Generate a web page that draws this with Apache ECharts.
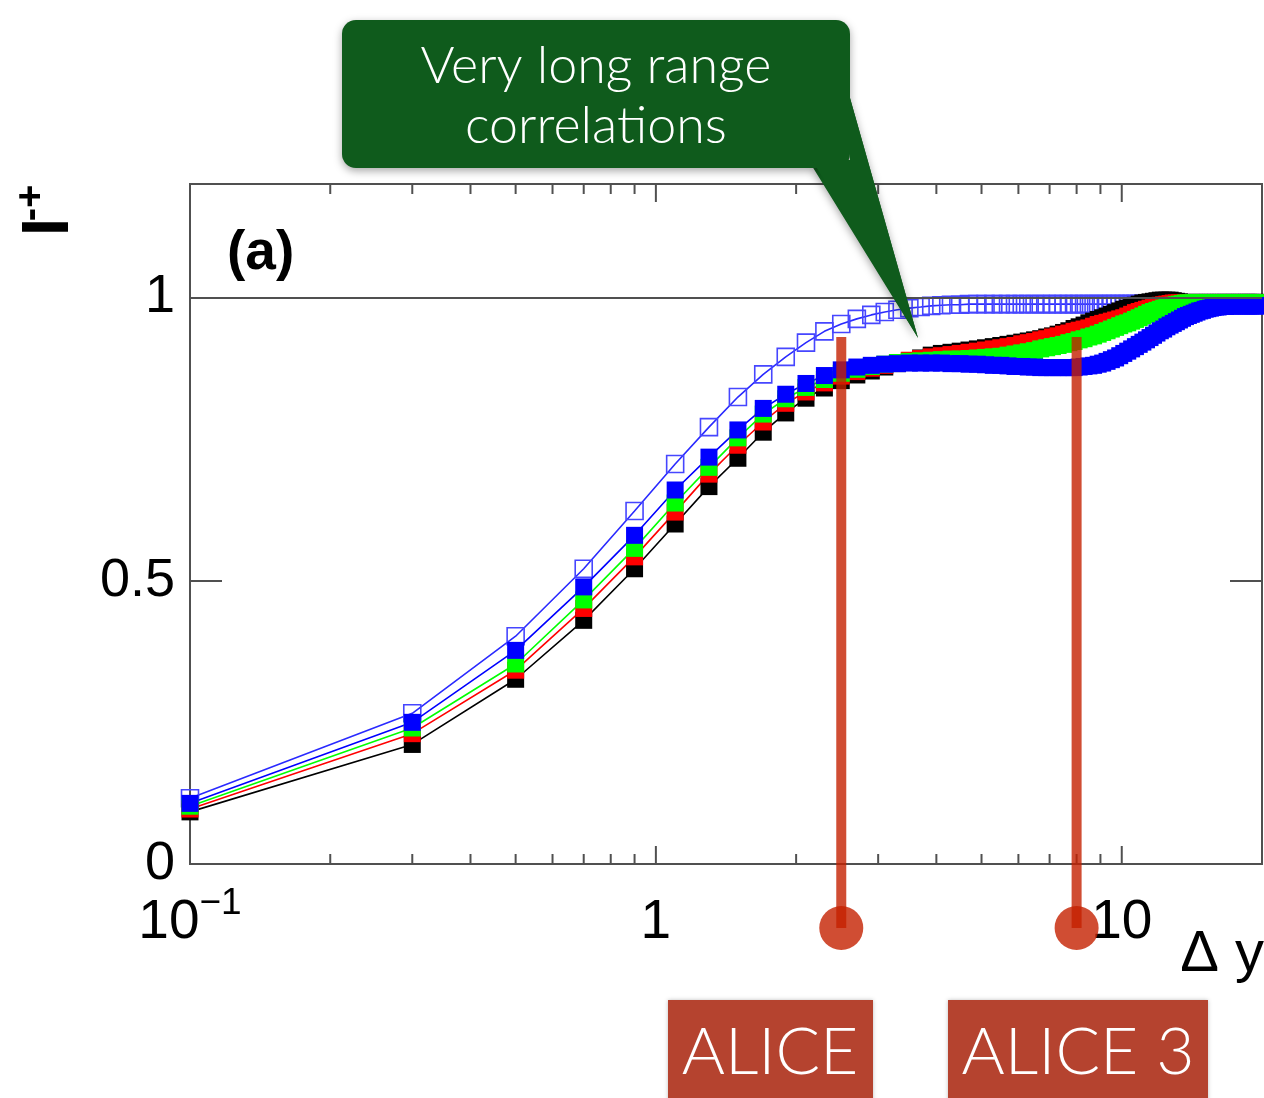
<!DOCTYPE html>
<html>
<head>
<meta charset="utf-8">
<script src="https://cdn.jsdelivr.net/npm/echarts@6/dist/echarts.min.js"></script>
<style>
  html, body { margin: 0; padding: 0; background: #ffffff; }
  #chart { width: 1264px; height: 1098px; }
</style>
</head>
<body>
<div id="chart"></div>
<script>
// Rapidity gap values (Δy) at which every curve is sampled
const rapidity = [
  0.1, 0.3, 0.5, 0.7, 0.9, 1.1, 1.3, 1.5, 1.7, 1.9,
  2.1, 2.3, 2.5, 2.7, 2.9, 3.1, 3.3, 3.5, 3.7, 3.9,
  4.1, 4.3, 4.5, 4.7, 4.9, 5.1, 5.3, 5.5, 5.7, 5.9,
  6.1, 6.3, 6.5, 6.7, 6.9, 7.1, 7.3, 7.5, 7.7, 7.9,
  8.1, 8.3, 8.5, 8.7, 8.9, 9.1, 9.3, 9.5, 9.7, 9.9,
  10.1, 10.3, 10.5, 10.7, 10.9, 11.1, 11.3, 11.5, 11.7, 11.9,
  12.1, 12.3, 12.5, 12.7, 12.9, 13.1, 13.3, 13.5, 13.7, 13.9,
  14.1, 14.3, 14.5, 14.7, 14.9, 15.1, 15.3, 15.5, 15.7, 15.9,
  16.1, 16.3, 16.5, 16.7, 16.9, 17.1, 17.3, 17.5, 17.7, 17.9,
  18.1, 18.3, 18.5, 18.7, 18.9, 19.1, 19.3, 19.5, 19.7, 19.9
];

// Open blue squares
const openBlue = [
  0.116, 0.266, 0.402, 0.521, 0.623, 0.706, 0.771, 0.824, 0.864, 0.895,
  0.920, 0.940, 0.953, 0.962, 0.969, 0.974, 0.978, 0.981, 0.983, 0.985,
  0.986, 0.987, 0.987, 0.988, 0.988, 0.988, 0.988, 0.988, 0.988, 0.988,
  0.988, 0.988, 0.988, 0.988, 0.988, 0.988, 0.988, 0.988, 0.988, 0.988,
  0.988, 0.988, 0.988, 0.988, 0.988, 0.988, 0.988, 0.988, 0.988, 0.988,
  0.988, 0.988, 0.988, 0.988, 0.988, 0.988, 0.988, 0.988, 0.988, 0.988,
  0.989, 0.989, 0.989, 0.989, 0.989, 0.989, 0.989, 0.989, 0.989, 0.989,
  0.989, 0.989, 0.989, 0.989, 0.989, 0.989, 0.989, 0.989, 0.989, 0.989,
  0.989, 0.989, 0.989, 0.989, 0.989, 0.989, 0.989, 0.989, 0.989, 0.989,
  0.989, 0.989, 0.989, 0.989, 0.989, 0.989, 0.989, 0.989, 0.989, 0.989
];

// Filled black squares
const fillBlack = [
  0.092, 0.211, 0.326, 0.430, 0.521, 0.600, 0.666, 0.716, 0.762, 0.796,
  0.822, 0.840, 0.853, 0.863, 0.870, 0.877, 0.883, 0.888, 0.893, 0.898,
  0.901, 0.903, 0.905, 0.907, 0.909, 0.911, 0.913, 0.915, 0.917, 0.919,
  0.921, 0.923, 0.925, 0.927, 0.930, 0.932, 0.935, 0.938, 0.941, 0.945,
  0.948, 0.951, 0.955, 0.958, 0.961, 0.964, 0.967, 0.970, 0.973, 0.976,
  0.979, 0.981, 0.983, 0.986, 0.988, 0.990, 0.991, 0.992, 0.993, 0.994,
  0.995, 0.995, 0.995, 0.995, 0.994, 0.993, 0.992, 0.991, 0.991, 0.991,
  0.991, 0.991, 0.991, 0.991, 0.991, 0.991, 0.991, 0.991, 0.991, 0.991,
  0.991, 0.991, 0.991, 0.991, 0.991, 0.991, 0.991, 0.991, 0.991, 0.991,
  0.991, 0.991, 0.991, 0.991, 0.991, 0.991, 0.991, 0.991, 0.991, 0.991
];

// Filled red squares
const fillRed = [
  0.097, 0.230, 0.342, 0.451, 0.542, 0.621, 0.688, 0.739, 0.780, 0.813,
  0.833, 0.849, 0.861, 0.869, 0.875, 0.880, 0.885, 0.889, 0.892, 0.895,
  0.897, 0.899, 0.901, 0.903, 0.905, 0.907, 0.909, 0.911, 0.913, 0.915,
  0.918, 0.920, 0.922, 0.925, 0.927, 0.930, 0.932, 0.935, 0.937, 0.940,
  0.942, 0.944, 0.946, 0.949, 0.952, 0.954, 0.956, 0.958, 0.960, 0.962,
  0.964, 0.967, 0.970, 0.973, 0.975, 0.977, 0.979, 0.981, 0.983, 0.985,
  0.986, 0.987, 0.988, 0.989, 0.990, 0.990, 0.990, 0.990, 0.990, 0.990,
  0.990, 0.990, 0.990, 0.990, 0.990, 0.990, 0.990, 0.990, 0.990, 0.990,
  0.990, 0.990, 0.990, 0.990, 0.990, 0.990, 0.990, 0.990, 0.990, 0.990,
  0.990, 0.990, 0.990, 0.990, 0.990, 0.990, 0.990, 0.990, 0.990, 0.990
];

// Filled green squares
const fillGreen = [
  0.102, 0.240, 0.353, 0.466, 0.557, 0.637, 0.700, 0.752, 0.794, 0.821,
  0.841, 0.855, 0.866, 0.873, 0.878, 0.882, 0.885, 0.887, 0.888, 0.889,
  0.890, 0.891, 0.891, 0.892, 0.893, 0.894, 0.895, 0.896, 0.898, 0.900,
  0.902, 0.904, 0.906, 0.909, 0.911, 0.913, 0.915, 0.917, 0.920, 0.922,
  0.925, 0.927, 0.930, 0.932, 0.935, 0.938, 0.941, 0.944, 0.947, 0.950,
  0.953, 0.955, 0.958, 0.961, 0.964, 0.967, 0.970, 0.973, 0.975, 0.977,
  0.979, 0.981, 0.983, 0.985, 0.986, 0.987, 0.988, 0.989, 0.990, 0.990,
  0.990, 0.990, 0.990, 0.990, 0.990, 0.990, 0.990, 0.990, 0.990, 0.990,
  0.990, 0.990, 0.990, 0.990, 0.990, 0.990, 0.990, 0.990, 0.990, 0.990,
  0.990, 0.990, 0.990, 0.990, 0.990, 0.990, 0.990, 0.990, 0.990, 0.990
];

// Filled blue squares
const fillBlue = [
  0.107, 0.250, 0.377, 0.489, 0.580, 0.660, 0.718, 0.766, 0.804, 0.829,
  0.848, 0.862, 0.872, 0.877, 0.880, 0.882, 0.883, 0.884, 0.884, 0.884,
  0.884, 0.883, 0.883, 0.882, 0.882, 0.881, 0.880, 0.880, 0.879, 0.878,
  0.878, 0.877, 0.877, 0.876, 0.876, 0.876, 0.876, 0.876, 0.876, 0.876,
  0.877, 0.878, 0.879, 0.880, 0.882, 0.884, 0.887, 0.890, 0.893, 0.897,
  0.901, 0.905, 0.909, 0.913, 0.917, 0.921, 0.925, 0.929, 0.933, 0.937,
  0.941, 0.944, 0.948, 0.951, 0.954, 0.957, 0.960, 0.963, 0.966, 0.968,
  0.970, 0.972, 0.974, 0.976, 0.977, 0.979, 0.980, 0.981, 0.982, 0.983,
  0.983, 0.984, 0.984, 0.984, 0.985, 0.985, 0.985, 0.985, 0.985, 0.985,
  0.985, 0.985, 0.985, 0.985, 0.985, 0.985, 0.985, 0.985, 0.985, 0.985
];

// Log-axis tick marks drawn on the bottom and top frame edges
const xMajorTicks = [1, 10];
const xMinorTicks = [0.2, 0.3, 0.4, 0.5, 0.6, 0.7, 0.8, 0.9, 2, 3, 4, 5, 6, 7, 8, 9];

// Acceptance reach markers
const detectorNames = ['ALICE', 'ALICE 3'];
const detectorReach = [2.5, 8];
const markerTop = 0.93;

const Y_MIN = 0;
const Y_MAX = 1.2;
const FONT = "'Liberation Sans', Arial, Helvetica, sans-serif";
const AXIS_GREY = '#505050';
const MARK_SIZE = 17;

const chart = echarts.init(document.getElementById('chart'), null, { renderer: 'canvas' });

function pairs(values) {
  return rapidity.map((x, i) => [x, values[i]]);
}

function filledSeries(name, values, color) {
  return {
    name: name,
    type: 'line',
    data: pairs(values),
    symbol: 'rect',
    symbolSize: MARK_SIZE,
    showAllSymbol: true,
    silent: true,
    z: 3,
    itemStyle: { color: color },
    lineStyle: { color: color, width: 1.6 },
    emphasis: { disabled: true }
  };
}

const tickData = xMajorTicks.map(v => [v, 1]).concat(xMinorTicks.map(v => [v, 0]));

const markerData = detectorReach.map(v => [v, markerTop]);

const option = {
  animation: false,
  backgroundColor: '#ffffff',
  grid: {
    left: 190, right: 2, top: 184, bottom: 234,
    show: true, borderColor: AXIS_GREY, borderWidth: 2,
    backgroundColor: 'transparent'
  },
  xAxis: {
    type: 'log',
    logBase: 10,
    min: 0.1,
    max: 20,
    axisLine: { show: true, lineStyle: { color: AXIS_GREY, width: 2 } },
    axisTick: { show: false },
    minorTick: { show: false },
    splitLine: { show: false },
    axisLabel: {
      margin: 29,
      showMaxLabel: false,
      formatter: function (v) {
        if (Math.abs(v - 0.1) < 1e-9) return '{b|10}{s|−1}';
        if (Math.abs(v - 1) < 1e-9) return '{b|1}';
        if (Math.abs(v - 10) < 1e-9) return '{b|10}';
        return '';
      },
      rich: {
        b: { fontSize: 55, fontFamily: FONT, color: '#000', lineHeight: 60 },
        s: { fontSize: 37, fontFamily: FONT, color: '#000', height: 22, verticalAlign: 'top' }
      }
    }
  },
  yAxis: [
    {
      type: 'value',
      min: Y_MIN, max: Y_MAX, interval: 0.5,
      axisLine: { show: true, lineStyle: { color: AXIS_GREY, width: 2 } },
      axisTick: { show: true, inside: true, length: 32, lineStyle: { color: AXIS_GREY, width: 2 } },
      splitLine: { show: false },
      axisLabel: {
        margin: 15, fontSize: 54, color: '#000', fontFamily: FONT,
        showMaxLabel: false,
        formatter: v => (v > 1.1 ? '' : String(v))
      }
    },
    {
      type: 'value',
      position: 'right',
      min: Y_MIN, max: Y_MAX, interval: 0.5,
      axisLine: { show: true, lineStyle: { color: AXIS_GREY, width: 2 } },
      axisTick: { show: true, inside: true, length: 32, lineStyle: { color: AXIS_GREY, width: 2 } },
      splitLine: { show: false },
      axisLabel: { show: false }
    }
  ],
  series: [
    {
      // frame ticks plus the reference line at unity
      type: 'custom',
      silent: true,
      clip: false,
      z: 1,
      data: tickData,
      renderItem: function (params, api) {
        const v = api.value(0);
        const len = api.value(1) === 1 ? 18 : 10;
        const b = api.coord([v, Y_MIN]);
        const t = api.coord([v, Y_MAX]);
        const st = { stroke: AXIS_GREY, lineWidth: 2 };
        return {
          type: 'group',
          children: [
            { type: 'line', shape: { x1: b[0], y1: b[1], x2: b[0], y2: b[1] - len }, style: st },
            { type: 'line', shape: { x1: t[0], y1: t[1], x2: t[0], y2: t[1] + len }, style: st }
          ]
        };
      },
      markLine: {
        silent: true,
        symbol: 'none',
        label: { show: false },
        lineStyle: { color: AXIS_GREY, width: 2, type: 'solid' },
        data: [{ yAxis: 1 }]
      }
    },
    {
      name: 'open',
      type: 'line',
      data: pairs(openBlue),
      symbol: 'rect',
      symbolSize: MARK_SIZE,
      showAllSymbol: true,
      silent: true,
      z: 2,
      itemStyle: { color: 'rgba(0,0,0,0)', borderColor: '#4646ff', borderWidth: 1.6 },
      lineStyle: { color: '#2a2aff', width: 1.6 },
      emphasis: { disabled: true }
    },
    filledSeries('black', fillBlack, '#000000'),
    filledSeries('red', fillRed, '#ff0000'),
    filledSeries('green', fillGreen, '#00ff00'),
    filledSeries('blue', fillBlue, '#0000ff'),
    {
      // reach markers: bar from the curve region down below the axis
      type: 'custom',
      silent: true,
      clip: false,
      z: 10,
      data: markerData,
      renderItem: function (params, api) {
        const top = api.coord([api.value(0), api.value(1)]);
        const base = api.coord([api.value(0), Y_MIN]);
        const cy = base[1] + 64;
        const style = { fill: '#c42000', opacity: 0.8 };
        return {
          type: 'group',
          children: [
            { type: 'rect', shape: { x: top[0] - 5, y: top[1], width: 10, height: cy - top[1] }, style: style },
            { type: 'circle', shape: { cx: top[0], cy: cy, r: 22 }, style: style }
          ]
        };
      }
    }
  ],
  graphic: [
    // y-axis title
    {
      type: 'text', x: 50, y: 227, rotation: Math.PI / 2,
      style: { text: 'I', font: "bold 66px 'Liberation Sans', Arial, sans-serif", fill: '#000', align: 'center', verticalAlign: 'middle' }
    },
    {
      type: 'text', x: 32, y: 203, rotation: Math.PI / 2,
      style: { text: '-+', font: "bold 40px 'Liberation Sans', Arial, sans-serif", fill: '#000', align: 'center', verticalAlign: 'middle' }
    },
    // panel tag
    {
      type: 'text', x: 227, y: 254,
      style: { text: '(a)', font: "bold 55px 'Liberation Sans', Arial, sans-serif", fill: '#000', align: 'left', verticalAlign: 'middle' }
    },
    // x-axis title
    {
      type: 'text', x: 1264, y: 955,
      style: { text: 'Δ y', font: "58px 'Liberation Sans', Arial, sans-serif", fill: '#000', align: 'right', verticalAlign: 'middle' }
    },
    // callout
    {
      type: 'polygon', z: 20,
      shape: { points: [[812, 166], [918, 338], [850, 98], [850, 166]] },
      style: { fill: '#0f5b1c', shadowBlur: 8, shadowColor: 'rgba(0,0,0,0.35)', shadowOffsetY: 3 }
    },
    {
      type: 'rect', z: 21,
      shape: { x: 342, y: 20, width: 508, height: 148, r: 14 },
      style: { fill: '#0f5b1c', shadowBlur: 8, shadowColor: 'rgba(0,0,0,0.35)', shadowOffsetY: 3 }
    },
    {
      type: 'polygon', z: 22,
      shape: { points: [[812, 160], [918, 338], [850, 98], [850, 160]] },
      style: { fill: '#0f5b1c' }
    },
    {
      type: 'text', z: 23, x: 596, y: 96,
      style: {
        text: 'Very long range\ncorrelations', font: "300 52px Lato, 'Open Sans', sans-serif",
        lineHeight: 60, fill: '#ffffff', align: 'center', verticalAlign: 'middle'
      }
    },
    // detector labels
    {
      type: 'rect', z: 20,
      shape: { x: 668, y: 1000, width: 205, height: 110 },
      style: { fill: '#b5432f', shadowBlur: 4, shadowColor: 'rgba(0,0,0,0.25)' }
    },
    {
      type: 'text', z: 21, x: 770, y: 1053,
      style: { text: detectorNames[0], font: "300 66px Lato, 'Open Sans', sans-serif", fill: '#ffffff', align: 'center', verticalAlign: 'middle' }
    },
    {
      type: 'rect', z: 20,
      shape: { x: 948, y: 1000, width: 260, height: 110 },
      style: { fill: '#b5432f', shadowBlur: 4, shadowColor: 'rgba(0,0,0,0.25)' }
    },
    {
      type: 'text', z: 21, x: 1078, y: 1053,
      style: { text: detectorNames[1], font: "300 66px Lato, 'Open Sans', sans-serif", fill: '#ffffff', align: 'center', verticalAlign: 'middle' }
    }
  ]
};

chart.setOption(option);
</script>
</body>
</html>
